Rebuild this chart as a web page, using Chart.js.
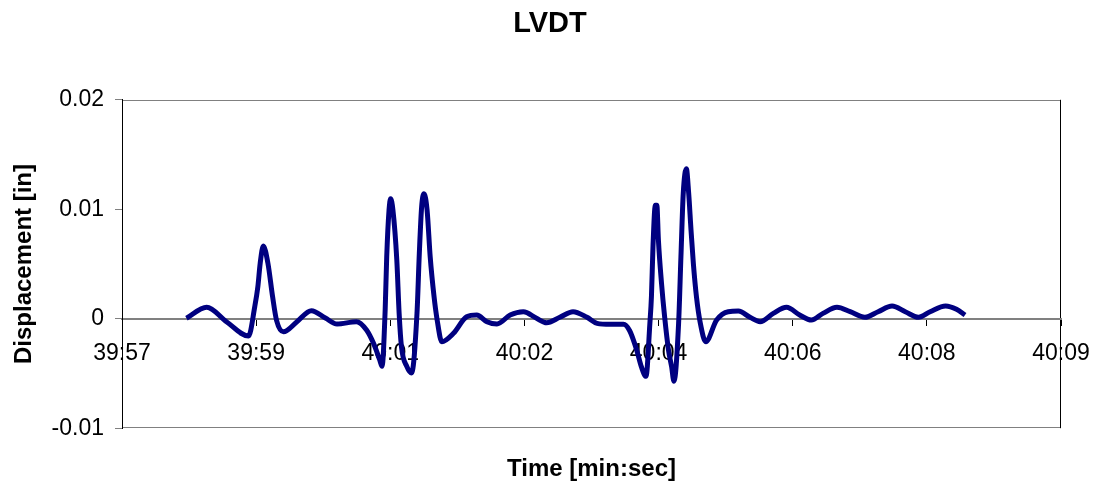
<!DOCTYPE html>
<html>
<head>
<meta charset="utf-8">
<script src="https://cdn.jsdelivr.net/npm/chart.js@4/dist/chart.umd.min.js"></script>
<style>
html,body{margin:0;padding:0;background:#fff;}
#wrap{width:1100px;height:489px;}
</style>
</head>
<body>
<div id="wrap"><canvas id="c" width="1100" height="489"></canvas></div>
<script>
// time in seconds (39:57 = 2397 s)
const timesSec = [
2398.03,2398.29,2398.55,2398.83,2398.91,2398.95,2398.98,2399.02,2399.08,2399.14,
2399.19,2399.28,2399.45,2399.64,2399.82,2399.97,2400.22,2400.35,2400.44,2400.52,
2400.55,2400.59,2400.61,2400.64,2400.66,2400.69,2400.74,2400.77,2400.80,2400.87,
2400.93,2401.00,2401.03,2401.06,2401.09,2401.13,2401.17,2401.22,2401.26,2401.32,
2401.47,2401.64,2401.77,2401.90,2402.03,2402.20,2402.37,2402.54,2402.67,2402.84,
2403.01,2403.19,2403.32,2403.49,2403.66,2403.74,2403.83,2403.89,2403.95,2404.00,
2404.02,2404.04,2404.07,2404.09,2404.11,2404.15,2404.19,2404.24,2404.28,2404.31,
2404.37,2404.40,2404.43,2404.47,2404.50,2404.53,2404.56,2404.60,2404.65,2404.72,
2404.86,2405.01,2405.14,2405.29,2405.42,2405.59,2405.76,2405.93,2406.08,2406.23,
2406.41,2406.58,2406.77,2406.94,2407.12,2407.29,2407.46,2407.61,2407.81,2407.95,
2408.06
];
const displacement = [
0.00004,0.00104,-0.0003,-0.00158,0.0011,0.00292,0.00506,0.00664,0.00506,0.00201,
-0.00012,-0.00119,-0.0003,0.00073,0.00006,-0.00048,-0.00027,-0.00103,-0.00225,-0.00377,
-0.00435,0.00079,0.00566,0.00993,0.01096,0.00993,0.00536,0.00049,-0.00256,-0.00438,
-0.00496,0.00049,0.00597,0.01023,0.01142,0.00993,0.00566,0.00201,-0.00012,-0.0021,
-0.00133,0.00018,0.00034,-0.00027,-0.00048,0.00034,0.00064,0.00004,-0.00037,0.00013,
0.00064,0.00013,-0.00042,-0.00051,-0.00051,-0.0011,-0.00286,-0.00438,-0.00526,-0.00042,
0.00201,0.00658,0.01036,0.01036,0.00719,0.00323,0.00018,-0.00286,-0.00438,-0.00572,
-0.00042,0.00566,0.01145,0.0137,0.01145,0.0081,0.00506,0.00201,-0.00042,-0.0021,
-0.00012,0.00064,0.0007,0.00013,-0.00027,0.00049,0.00104,0.00034,-0.00012,0.00049,
0.00104,0.00064,0.00013,0.00064,0.00116,0.00064,0.00013,0.00064,0.00116,0.00086,
0.00034
];
const xTickLabels = ['39:57','39:59','40:01','40:02','40:04','40:06','40:08','40:09'];
const yTickValues = [-0.01, 0, 0.01, 0.02];
const yTickLabels = ['-0.01','0','0.01','0.02'];

const xMin = 2397.2, xStep = 1.728, xMax = xMin + 7 * xStep;

Chart.defaults.font.family = "'Liberation Sans', Arial, sans-serif";
Chart.defaults.color = '#000';

const plotFrame = {
  id: 'plotFrame',
  beforeDraw(chart) {
    const {ctx, chartArea: a} = chart;
    ctx.save();
    ctx.fillStyle = '#fff';
    ctx.fillRect(0, 0, chart.width, chart.height);
    ctx.strokeStyle = '#808080';
    ctx.lineWidth = 1;
    ctx.strokeRect(Math.round(a.left) + 0.5, Math.round(a.top) + 0.5, Math.round(a.width) - 1, Math.round(a.height) - 1);
    ctx.strokeStyle = '#000';
    ctx.beginPath();
    ctx.moveTo(Math.round(a.right) - 0.5, a.top);
    ctx.lineTo(Math.round(a.right) - 0.5, a.bottom);
    ctx.stroke();
    ctx.restore();
  }
};

new Chart(document.getElementById('c'), {
  type: 'line',
  data: {
    datasets: [{
      data: timesSec.map((t, i) => ({x: t, y: displacement[i]})),
      borderColor: '#000080',
      borderWidth: 5,
      pointRadius: 0,
      fill: false,
      cubicInterpolationMode: 'monotone'
    }]
  },
  options: {
    responsive: false,
    animation: false,
    devicePixelRatio: 1,
    layout: {padding: {left: 0, right: 0, top: 0, bottom: 0}},
    plugins: {
      legend: {display: false},
      tooltip: {enabled: false},
      title: {
        display: true, text: 'LVDT', color: '#000',
        font: {size: 29, weight: 'bold'},
        padding: {top: 7, bottom: 58}
      },
      subtitle: {
        display: true, position: 'bottom', fullSize: false, text: 'Time [min:sec]', color: '#000',
        font: {size: 24, weight: 'bold'},
        padding: {top: 27, bottom: 5}
      }
    },
    scales: {
      x: {
        type: 'linear',
        position: {y: 0},
        min: xMin, max: xMax,
        afterBuildTicks: s => { s.ticks = xTickLabels.map((l, i) => ({value: xMin + i * xStep})); },
        afterFit: s => { s.paddingLeft = 0; s.paddingRight = 39; },
        ticks: {
          callback: (v, i) => xTickLabels[i],
          font: {size: 23}, color: '#000', padding: 15,
          maxRotation: 0, autoSkip: false
        },
        grid: {drawOnChartArea: false, drawTicks: true, tickLength: 6, color: '#000'},
        border: {color: '#808080', width: 2}
      },
      y: {
        min: -0.01, max: 0.02,
        afterBuildTicks: s => { s.ticks = yTickValues.map(v => ({value: v})); },
        ticks: {
          callback: (v, i) => yTickLabels[i],
          font: {size: 23}, color: '#000', padding: 11
        },
        grid: {drawOnChartArea: false, drawTicks: true, tickLength: 7, color: '#808080'},
        border: {color: '#000', width: 1},
        title: {
          display: true, text: 'Displacement [in]', color: '#000',
          font: {size: 24, weight: 'bold'},
          padding: {top: 10, bottom: 0}
        },
        afterFit: s => { s.width = 122; }
      }
    }
  },
  plugins: [plotFrame]
});
</script>
</body>
</html>
